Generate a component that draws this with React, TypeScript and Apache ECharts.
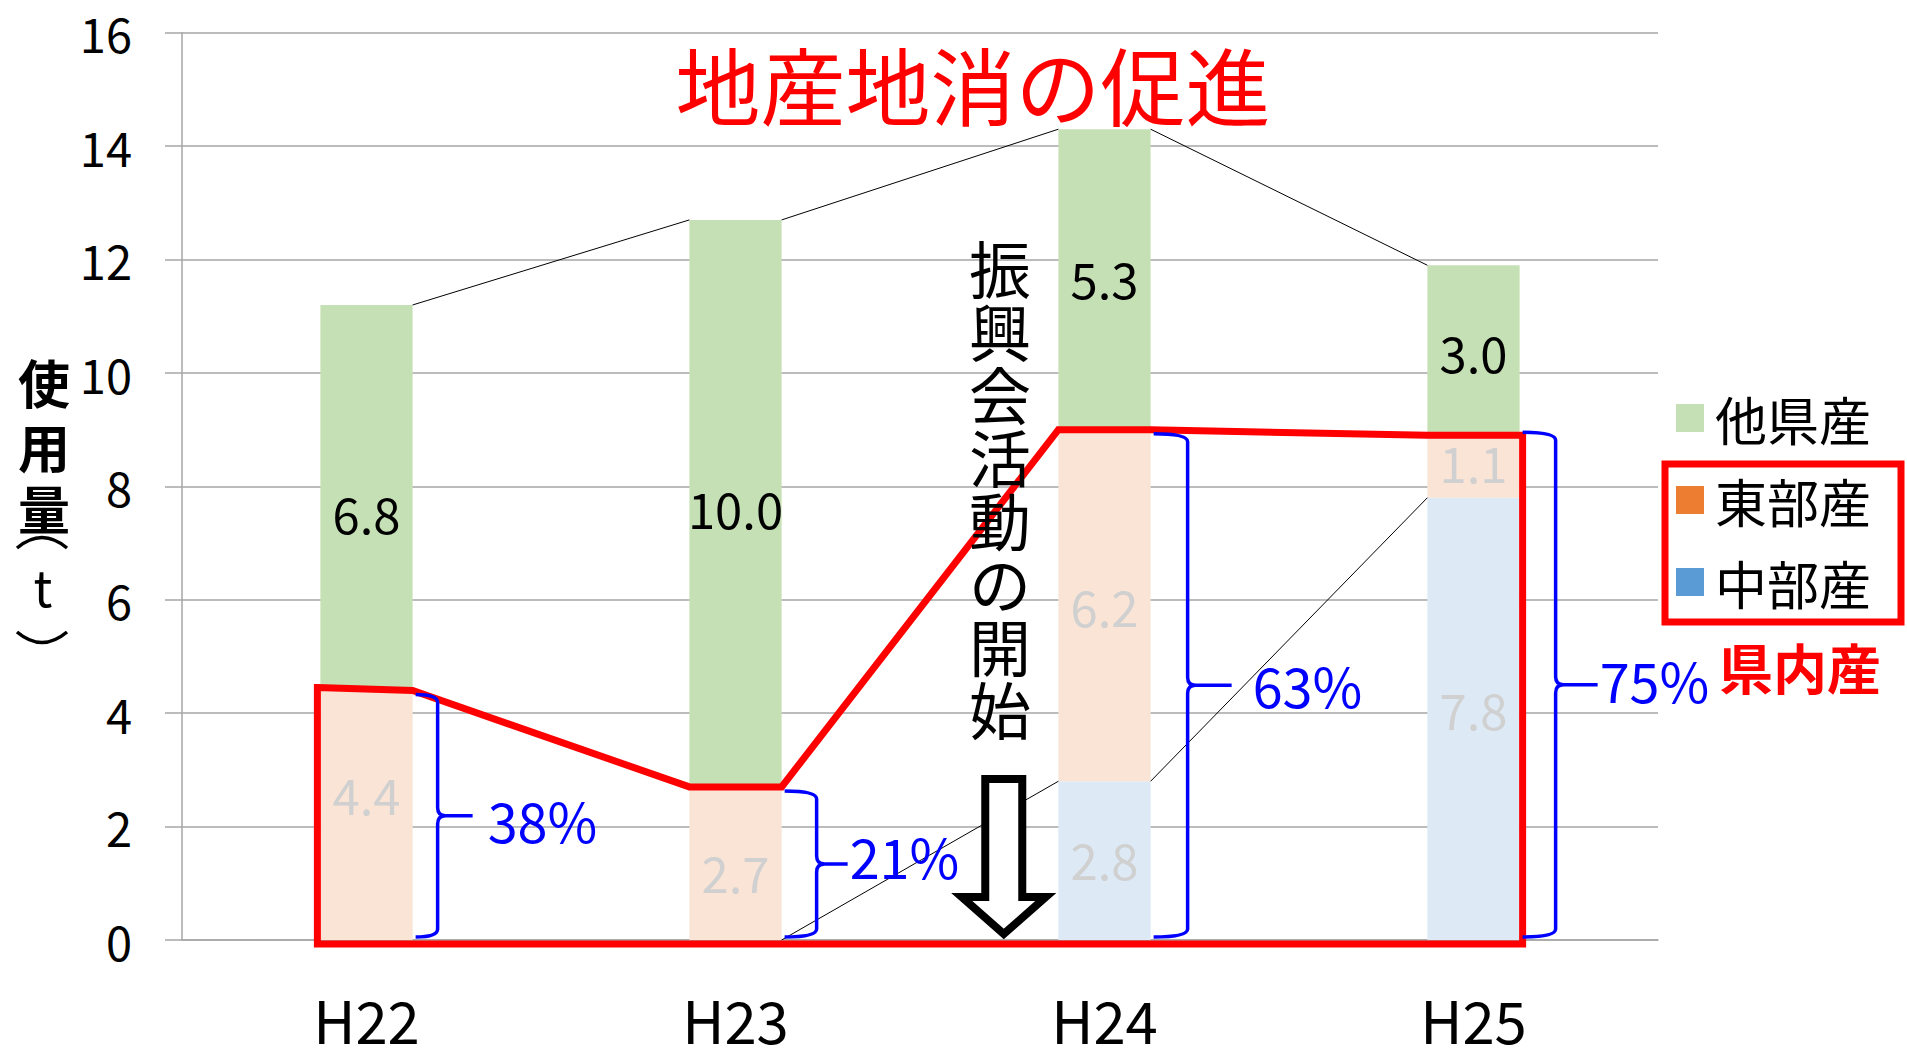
import React, { useEffect, useRef } from 'react';
import * as echarts from 'echarts';

// ---- data ----
const categories = ['H22', 'H23', 'H24', 'H25'];
const chubuValues = [0, 0, 2.8, 7.8];      // 中部産
const tobuValues = [4.4, 2.7, 6.2, 1.1];   // 東部産
const takenValues = [6.8, 10.0, 5.3, 3.0]; // 他県産
const shareLabels = ['38%', '21%', '63%', '75%'];
const Y_MIN = 0;
const Y_MAX = 16;
const Y_INTERVAL = 2;

// ---- layout ----
// brace offsets (px): [brace line x, tick end x, text start x] from bar's right edge, top dy, text dy
const BRACE_LAYOUT = [
  [25, 60, 75, 4, 4],
  [35, 66, 68, 4, -8],
  [37, 81, 102, 4, -1],
  [36, 78, 80, -3, -5],
];
// small vertical nudges (px) of the value labels, per series
const LABEL_DY_CHUBU = [0, 0, -2, -10];
const LABEL_DY_TOBU = [-22, 8, 0, -5];
const LABEL_DY_TAKEN = [15, 4, -2, 1];

const FONT = '"Noto Sans CJK JP", "Noto Sans", sans-serif';
const C_GREEN = '#C5E0B4';
const C_ORANGE_L = '#FAE4D6';
const C_BLUE_L = '#DDEAF6';
const C_ORANGE = '#ED7D31';
const C_BLUE = '#5B9BD5';
const GRID_C = '#A6A6A6';

const App: React.FC = () => {
  const ref = useRef<HTMLDivElement>(null);

  useEffect(() => {
    if (!ref.current) return;
    const chart = echarts.init(ref.current, undefined, { renderer: 'svg' });

    const mid = tobuValues.map((t, i) => chubuValues[i] + t);
    const tot = mid.map((m, i) => m + takenValues[i]);

    const fmt = (p: any) => (p.value > 0 ? Number(p.value).toFixed(1) : '');
    const withOffsets = (vals: number[], dys: number[]) =>
      vals.map((v, i) => ({ value: v, label: { offset: [0, dys[i]] } }));

    const renderItem = (params: any, api: any) => {
      const band = api.size([1, 0])[0];
      const hw = (band * 0.25) / 2;
      const n = categories.length;
      const cx = categories.map((_, i) => api.coord([i, 0])[0]);
      const y = (v: number) => api.coord([0, v])[1];
      const y0 = y(0);
      const children: any[] = [];

      const line = (x1: number, y1: number, x2: number, y2: number) => ({
        type: 'line',
        shape: { x1, y1, x2, y2 },
        style: { stroke: '#000', lineWidth: 1 },
      });

      // series lines
      for (let i = 0; i < n - 1; i++) {
        children.push(line(cx[i] + hw, y(tot[i]), cx[i + 1] - hw, y(tot[i + 1])));
        if (chubuValues[i] > 0 || chubuValues[i + 1] > 0) {
          children.push(line(cx[i] + hw, y(chubuValues[i]), cx[i + 1] - hw, y(chubuValues[i + 1])));
        }
      }

      // red outline of in-prefecture production
      const pts: number[][] = [];
      for (let i = 0; i < n; i++) {
        pts.push([cx[i] - hw, y(mid[i])]);
        pts.push([cx[i] + hw, y(mid[i])]);
      }
      pts[0] = [cx[0] - hw - 3, y(mid[0]) - 3];
      pts[pts.length - 1] = [cx[n - 1] + hw + 3, y(mid[n - 1])];
      pts.push([cx[n - 1] + hw + 3, y0 + 4]);
      pts.push([cx[0] - hw - 3, y0 + 4]);
      children.push({
        type: 'polygon',
        shape: { points: pts },
        style: { fill: 'none', stroke: '#FF0000', lineWidth: 7, lineJoin: 'miter' },
      });

      // braces + share labels
      for (let i = 0; i < n; i++) {
        const [ov, ot, ox, tdy, txdy] = BRACE_LAYOUT[i];
        const x0 = cx[i] + hw + 3;
        const xv = cx[i] + hw + ov;
        const xt = cx[i] + hw + ot;
        const yTop = y(mid[i]) + tdy;
        const yBot = y0 - 3;
        const ym = (yTop + yBot) / 2;
        const r = 8;
        const d =
          `M ${x0} ${yTop} Q ${xv} ${yTop} ${xv} ${yTop + r} L ${xv} ${ym - r} ` +
          `Q ${xv} ${ym} ${xv + r} ${ym} L ${xt} ${ym} M ${xv + r} ${ym} ` +
          `Q ${xv} ${ym} ${xv} ${ym + r} L ${xv} ${yBot - r} Q ${xv} ${yBot} ${x0} ${yBot}`;
        children.push({
          type: 'path',
          shape: { pathData: d },
          style: { fill: 'none', stroke: '#0000FF', lineWidth: 3.5 },
        });
        children.push({
          type: 'text',
          x: cx[i] + hw + ox,
          y: ym + txdy,
          style: {
            text: shareLabels[i],
            fill: '#0000FF',
            fontSize: 54,
            fontFamily: FONT,
            align: 'left',
            verticalAlign: 'middle',
          },
        });
      }

      // hollow arrow + vertical text
      const ax = cx[2] - band * 0.273;
      const tx = cx[2] - band * 0.283;
      const tip = y0 - 6;
      const base = tip - 37;
      const top = tip - 155;
      children.push({
        type: 'polygon',
        shape: {
          points: [
            [ax - 18.5, top],
            [ax + 18.5, top],
            [ax + 18.5, base],
            [ax + 42, base],
            [ax, tip],
            [ax - 42, base],
            [ax - 18.5, base],
          ],
        },
        style: { fill: '#fff', stroke: '#000', lineWidth: 8, lineJoin: 'miter' },
      });
      children.push({
        type: 'text',
        x: tx,
        y: y(12.42),
        style: {
          text: '振\n興\n会\n活\n動\nの\n開\n始',
          fill: '#000',
          fontSize: 62,
          lineHeight: 63,
          fontFamily: FONT,
          align: 'center',
          verticalAlign: 'top',
        },
      });

      return { type: 'group', children };
    };

    const barLabel = (color: string) => ({
      show: true,
      position: 'inside',
      formatter: fmt,
      color,
      fontSize: 49,
      fontFamily: FONT,
    });

    const yTitle = [
      { t: '使', y: 381 },
      { t: '用', y: 445 },
      { t: '量', y: 507 },
    ];

    chart.setOption({
      animation: false,
      backgroundColor: '#fff',
      grid: { left: 182, right: 249, top: 32.8, bottom: 105.4, containLabel: false },
      xAxis: {
        type: 'category',
        data: categories,
        axisLine: { show: true, lineStyle: { color: GRID_C, width: 1.5 } },
        axisTick: { show: false },
        axisLabel: { fontSize: 58, lineHeight: 50, color: '#000', fontFamily: FONT, margin: 54 },
      },
      yAxis: {
        type: 'value',
        min: Y_MIN,
        max: Y_MAX,
        interval: Y_INTERVAL,
        axisLine: { show: true, lineStyle: { color: GRID_C, width: 1.5 } },
        axisTick: { show: true, length: 17, lineStyle: { color: GRID_C, width: 1.5 } },
        splitLine: { show: true, lineStyle: { color: GRID_C, width: 1.5 } },
        axisLabel: { fontSize: 47, lineHeight: 47, color: '#000', fontFamily: FONT, margin: 50 },
      },
      legend: {
        orient: 'vertical',
        left: 1671,
        top: 385,
        itemWidth: 28,
        itemHeight: 28,
        itemGap: 26,
        icon: 'rect',
        selectedMode: false,
        data: [
          { name: '他県産', itemStyle: { color: C_GREEN } },
          { name: '東部産', itemStyle: { color: C_ORANGE } },
          { name: '中部産', itemStyle: { color: C_BLUE } },
        ],
        textStyle: {
          fontSize: 52,
          lineHeight: 56,
          color: '#000',
          fontFamily: FONT,
          padding: [0, 0, 0, 6],
        },
      },
      series: [
        {
          name: '中部産',
          type: 'bar',
          stack: 'total',
          barWidth: '25%',
          data: withOffsets(chubuValues, LABEL_DY_CHUBU),
          itemStyle: { color: C_BLUE_L },
          label: barLabel('#D0D0D0'),
        },
        {
          name: '東部産',
          type: 'bar',
          stack: 'total',
          barWidth: '25%',
          data: withOffsets(tobuValues, LABEL_DY_TOBU),
          itemStyle: { color: C_ORANGE_L },
          label: barLabel('#D0D0D0'),
        },
        {
          name: '他県産',
          type: 'bar',
          stack: 'total',
          barWidth: '25%',
          data: withOffsets(takenValues, LABEL_DY_TAKEN),
          itemStyle: { color: C_GREEN },
          label: barLabel('#000'),
        },
        {
          type: 'custom',
          coordinateSystem: 'cartesian2d',
          data: [[0, 0]],
          clip: false,
          silent: true,
          z: 5,
          renderItem,
        },
      ],
      graphic: [
        {
          type: 'text',
          x: 973,
          y: 82,
          style: {
            text: '地産地消の促進',
            fill: '#FF0000',
            fontSize: 85,
            fontFamily: FONT,
            align: 'center',
            verticalAlign: 'middle',
          },
        },
        ...yTitle.map((c) => ({
          type: 'text',
          x: 44,
          y: c.y,
          style: {
            text: c.t,
            fill: '#000',
            fontSize: 52,
            fontWeight: 'bold',
            fontFamily: FONT,
            align: 'center',
            verticalAlign: 'middle',
          },
        })),
        {
          type: 'bezierCurve',
          shape: { x1: 17, y1: 548, cpx1: 42, cpy1: 527, x2: 67, y2: 548 },
          style: { stroke: '#000', lineWidth: 3.5, fill: 'none' },
        },
        {
          type: 'text',
          x: 43,
          y: 585,
          style: {
            text: 't',
            fill: '#000',
            fontSize: 50,
            fontFamily: FONT,
            align: 'center',
            verticalAlign: 'middle',
          },
        },
        {
          type: 'bezierCurve',
          shape: { x1: 17, y1: 632, cpx1: 42, cpy1: 653, x2: 67, y2: 632 },
          style: { stroke: '#000', lineWidth: 3.5, fill: 'none' },
        },
        {
          type: 'rect',
          shape: { x: 1665, y: 464, width: 236, height: 158 },
          style: { fill: 'none', stroke: '#FF0000', lineWidth: 7 },
        },
        {
          type: 'text',
          x: 1800,
          y: 666,
          style: {
            text: '県内産',
            fill: '#FF0000',
            fontSize: 54,
            fontWeight: 'bold',
            fontFamily: FONT,
            align: 'center',
            verticalAlign: 'middle',
          },
        },
      ],
    });

    return () => {
      chart.dispose();
    };
  }, []);

  return (
    <div
      ref={ref}
      style={{ position: 'absolute', left: 0, top: 0, width: 1907, height: 1048, background: '#fff' }}
    />
  );
};

export default App;
